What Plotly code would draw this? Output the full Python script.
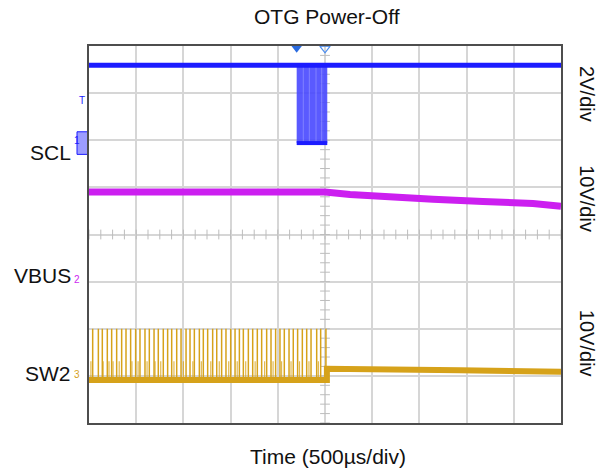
import numpy as np
import plotly.graph_objects as go

# screen: 10 horizontal x 8 vertical divisions, 500 us/div
TIME_PER_DIV_US = 500
N_XDIV = 10
N_YDIV = 8

# channel setup: ground position (divisions from bottom) and volts/div
SCL_GND_DIV, SCL_V_PER_DIV = 5.94, 2
VBUS_GND_DIV, VBUS_V_PER_DIV = 3.0, 10
SW2_GND_DIV, SW2_V_PER_DIV = 0.97, 10

TRIGGER_US = 2500
TRIGGER_LEVEL_V = 1.4

# SCL: idles high, clock burst just before the trigger point
scl_high_v = 3.3
scl_low_v = 0.0
scl_burst_start_us = 2200
scl_burst_end_us = 2524
scl_burst_edges_us = [2270, 2334, 2405, 2465]

# VBUS: flat, then discharging after power-off
vbus_t_us = [0, 2500, 2765, 3114, 3644, 4173, 4703, 5000]
vbus_v = [19.0, 19.0, 18.5, 18.0, 17.5, 17.0, 16.6, 16.0]

# SW2: switching pulses until power-off, then a low flat level
sw2_t_us = [0, 2520, 2520, 3300, 3930, 5000]
sw2_v = [-0.6, -0.6, 1.8, 1.8, 1.5, 1.2]
sw2_spike_us = [39, 99, 141, 194, 240, 293, 346, 392, 441, 494, 540, 593, 639,
                689, 734, 787, 833, 876, 929, 975, 1028, 1070, 1116, 1169, 1211,
                1257, 1310, 1353, 1405, 1451, 1501, 1547, 1593, 1635, 1688, 1734,
                1783, 1829, 1882, 1928, 1977, 2023, 2069, 2119, 2164, 2210, 2260,
                2306, 2352, 2412, 2454, 2510]
sw2_spike_top_v = 10.3
sw2_small_spike_us = [20, 150, 212, 255, 320, 455, 520, 615, 700, 760, 900,
                      1000, 1100, 1190, 1290, 1380, 1480, 1570, 1660, 1760,
                      1860, 1950, 2040, 2140, 2230, 2330, 2430]
sw2_small_spike_top_v = 3.4

BLUE = "#1c1cff"
MAGENTA = "#cc1ff0"
GOLD = "#d6a21a"
GRID = "#d6d6d6"
FONT = "Liberation Sans, Arial, sans-serif"


def to_div(values, gnd, vpd):
    return [gnd + v / vpd for v in values]


def spikes(times, low, high):
    xs, ys = [], []
    for t in times:
        xs += [t, t, None]
        ys += [low, high, None]
    return xs, ys


x_end = TIME_PER_DIV_US * N_XDIV
traces = []

# graticule centre-line ticks
cx = np.arange(0, x_end + 1, TIME_PER_DIV_US / 4)
cy = np.arange(0, N_YDIV + 0.01, 0.2)
traces.append(go.Scatter(x=cx, y=[N_YDIV / 2] * len(cx), mode="markers", hoverinfo="skip",
                         marker=dict(symbol="line-ns", size=7, line=dict(width=1, color="#bdbdbd"))))
traces.append(go.Scatter(x=[x_end / 2] * len(cy), y=cy, mode="markers", hoverinfo="skip",
                         marker=dict(symbol="line-ew", size=7, line=dict(width=1, color="#bdbdbd"))))

# SW2
sw2_low = SW2_GND_DIV + sw2_v[0] / SW2_V_PER_DIV
sx, sy = spikes(sw2_small_spike_us, sw2_low, SW2_GND_DIV + sw2_small_spike_top_v / SW2_V_PER_DIV)
traces.append(go.Scatter(x=sx, y=sy, mode="lines", line=dict(color="rgba(214,162,26,0.75)", width=1.2),
                         hoverinfo="skip"))
sx, sy = spikes(sw2_spike_us, sw2_low, SW2_GND_DIV + sw2_spike_top_v / SW2_V_PER_DIV)
traces.append(go.Scatter(x=sx, y=sy, mode="lines", line=dict(color=GOLD, width=1.5),
                         hoverinfo="skip"))
traces.append(go.Scatter(x=sw2_t_us, y=to_div(sw2_v, SW2_GND_DIV, SW2_V_PER_DIV), mode="lines",
                         line=dict(color=GOLD, width=6), hoverinfo="skip"))

# VBUS
traces.append(go.Scatter(x=vbus_t_us, y=to_div(vbus_v, VBUS_GND_DIV, VBUS_V_PER_DIV), mode="lines",
                         line=dict(color=MAGENTA, width=7), hoverinfo="skip"))

# SCL burst block
hi = SCL_GND_DIV + scl_high_v / SCL_V_PER_DIV
lo = SCL_GND_DIV + scl_low_v / SCL_V_PER_DIV
traces.append(go.Scatter(
    x=[scl_burst_start_us, scl_burst_end_us, scl_burst_end_us, scl_burst_start_us, scl_burst_start_us],
    y=[hi, hi, lo, lo, hi], mode="lines", fill="toself", fillcolor="rgba(72,72,255,0.9)",
    line=dict(width=0), hoverinfo="skip"))
sx, sy = spikes(scl_burst_edges_us, lo, hi)
traces.append(go.Scatter(x=sx, y=sy, mode="lines", line=dict(color="rgba(170,170,255,0.5)", width=1),
                         hoverinfo="skip"))
traces.append(go.Scatter(x=[scl_burst_start_us, scl_burst_end_us], y=[lo, lo], mode="lines",
                         line=dict(color=BLUE, width=4), hoverinfo="skip"))
traces.append(go.Scatter(x=[0, x_end], y=[hi, hi], mode="lines",
                         line=dict(color=BLUE, width=5), hoverinfo="skip"))

# trigger position markers on the top edge
traces.append(go.Scatter(x=[scl_burst_start_us], y=[N_YDIV - 0.05], mode="markers", cliponaxis=False,
                         marker=dict(symbol="triangle-down", size=9, color="#2a6be0"), hoverinfo="skip"))
traces.append(go.Scatter(x=[TRIGGER_US], y=[N_YDIV - 0.05], mode="markers", cliponaxis=False,
                         marker=dict(symbol="triangle-down-open", size=9, color="#4a8cf0",
                                     line=dict(width=1.2)), hoverinfo="skip"))

# channel ground markers and trigger level marker on the left edge
gnds = [SCL_GND_DIV, VBUS_GND_DIV, SW2_GND_DIV]
cols = [BLUE, MAGENTA, GOLD]
traces.append(go.Scatter(x=[-30] * 3, y=gnds, mode="markers", cliponaxis=False,
                         marker=dict(symbol="triangle-right", size=7, color=cols), hoverinfo="skip"))
trig_div = SCL_GND_DIV + TRIGGER_LEVEL_V / SCL_V_PER_DIV
traces.append(go.Scatter(x=[-30], y=[trig_div], mode="markers", cliponaxis=False,
                         marker=dict(symbol="triangle-right", size=7, color=BLUE), hoverinfo="skip"))

fig = go.Figure(data=traces)

annotations = []
# title and time axis label
annotations.append(dict(text="OTG Power-Off", x=0.504, y=1.077, xref="paper", yref="paper",
                        xanchor="center", yanchor="middle",
                        showarrow=False, font=dict(size=21, color="#111")))
annotations.append(dict(text="Time (500µs/div)", x=0.506, y=-0.088, xref="paper", yref="paper",
                        xanchor="center", yanchor="middle",
                        showarrow=False, font=dict(size=21, color="#111")))
# channel names
for name, ypos in [("SCL", 5.75), ("VBUS", 3.14), ("SW2", 1.05)]:
    annotations.append(dict(text=name, x=-0.034, y=ypos, xref="paper", yref="y", xanchor="right",
                            yanchor="middle", showarrow=False, font=dict(size=21, color="#111")))
# scale labels
for name, ypos in [("2V/div", 6.98), ("10V/div", 4.75), ("10V/div", 1.68)]:
    annotations.append(dict(text=name, x=1.055, y=ypos, xref="paper", yref="y", textangle=90,
                            xanchor="center", yanchor="middle",
                            showarrow=False, font=dict(size=20, color="#111")))
# channel numbers
for num, g, c in zip(["1", "2", "3"], gnds, cols):
    annotations.append(dict(text=num, x=-0.014, y=g + 0.05, xref="paper", yref="y", xanchor="right",
                            yanchor="middle", showarrow=False, font=dict(size=10, color=c)))
annotations.append(dict(text="T", x=-0.004, y=trig_div + 0.2, xref="paper", yref="y", xanchor="right",
                        yanchor="middle", showarrow=False, font=dict(size=10, color=BLUE)))

shapes = [dict(type="rect", xref="paper", yref="y", x0=-0.0254, x1=-0.002,
               y0=SCL_GND_DIV - 0.24, y1=SCL_GND_DIV + 0.24,
               fillcolor="rgba(90,90,255,0.6)", line=dict(color=BLUE, width=1), layer="below")]

fig.update_layout(
    width=609, height=472,
    margin=dict(l=89, r=48, t=46, b=49),
    paper_bgcolor="white", plot_bgcolor="white",
    showlegend=False,
    font=dict(family=FONT),
    annotations=annotations,
    shapes=shapes,
    xaxis=dict(range=[0, x_end], dtick=TIME_PER_DIV_US, tick0=0, showgrid=True, gridcolor=GRID,
               gridwidth=1.5, showticklabels=False, ticks="", zeroline=False, showline=True,
               mirror=True, linecolor="#4d4d4d", linewidth=1.5, fixedrange=True),
    yaxis=dict(range=[0, N_YDIV], dtick=1, tick0=0, showgrid=True, gridcolor=GRID, gridwidth=1.5,
               showticklabels=False, ticks="", zeroline=False, showline=True, mirror=True,
               linecolor="#4d4d4d", linewidth=1.5, fixedrange=True),
)

# drop the default page margin so the figure sits at the window's corner
fig.write_html("out.html", config={"displayModeBar": False},
               post_script="document.body.style.margin='0';")
